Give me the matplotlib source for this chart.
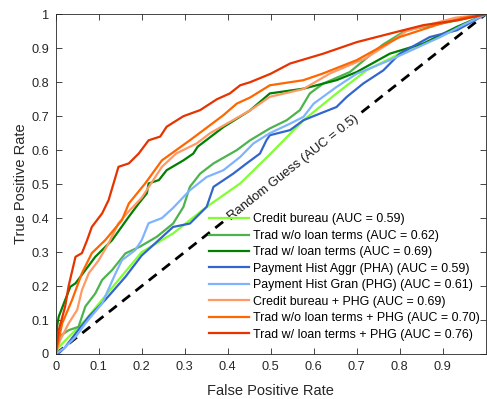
import matplotlib
matplotlib.use("Agg")
import matplotlib.pyplot as plt

plt.rcParams['font.family'] = ['Liberation Sans', 'DejaVu Sans']

# ---- data ----
labels = [
    "Credit bureau (AUC = 0.59)",
    "Trad w/o loan terms (AUC = 0.62)",
    "Trad w/ loan terms (AUC = 0.69)",
    "Payment Hist Aggr (PHA) (AUC = 0.59)",
    "Payment Hist Gran (PHG) (AUC = 0.61)",
    "Credit bureau + PHG (AUC = 0.69)",
    "Trad w/o loan terms + PHG (AUC = 0.70)",
    "Trad w/ loan terms + PHG (AUC = 0.76)",
]
colors = ["#80FF33", "#4DB34D", "#008000", "#3366CC", "#80B3FF",
          "#FF9966", "#FF6600", "#E63300"]

cb_fpr = [0, 0.007, 0.03, 0.069, 0.146, 0.2, 0.273, 0.351, 0.429, 0.5, 0.576, 0.653, 0.723, 0.80, 0.894, 1]
cb_tpr = [0, 0.02, 0.05, 0.10, 0.218, 0.30, 0.355, 0.433, 0.502, 0.59, 0.688, 0.767, 0.835, 0.884, 0.933, 1]

two_fpr = [0, 0.003, 0.007, 0.03, 0.053, 0.069, 0.092, 0.108, 0.131, 0.162, 0.196, 0.235, 0.273, 0.297, 0.312,
           0.336, 0.367, 0.421, 0.452, 0.498, 0.537, 0.568, 0.591, 0.622, 0.684, 0.76, 0.815, 0.894, 1]
two_tpr = [0, 0.045, 0.05, 0.07, 0.08, 0.14, 0.178, 0.218, 0.247, 0.296, 0.316, 0.345, 0.384, 0.433, 0.492,
           0.531, 0.561, 0.60, 0.629, 0.664, 0.688, 0.718, 0.767, 0.796, 0.83, 0.91, 0.953, 0.972, 1]

tw_fpr = [0, 0.003, 0.007, 0.034, 0.046, 0.069, 0.092, 0.131, 0.17, 0.193, 0.212, 0.216, 0.24, 0.258, 0.297,
          0.32, 0.33, 0.39, 0.452, 0.498, 0.576, 0.653, 0.70, 0.777, 0.855, 0.933, 1]
tw_tpr = [0, 0.08, 0.11, 0.198, 0.208, 0.247, 0.286, 0.335, 0.404, 0.443, 0.473, 0.502, 0.512, 0.541, 0.57,
          0.59, 0.61, 0.668, 0.717, 0.767, 0.781, 0.806, 0.83, 0.884, 0.914, 0.963, 1]

pha_fpr = [0, 0.007, 0.022, 0.046, 0.077, 0.115, 0.162, 0.2, 0.235, 0.273, 0.312, 0.351, 0.367, 0.413, 0.444,
           0.475, 0.49, 0.498, 0.545, 0.576, 0.615, 0.653, 0.677, 0.715, 0.762, 0.80, 0.87, 0.933, 1]
pha_tpr = [0, 0.002, 0.02, 0.06, 0.11, 0.159, 0.227, 0.29, 0.33, 0.374, 0.384, 0.433, 0.492, 0.531, 0.561,
           0.59, 0.629, 0.644, 0.659, 0.688, 0.708, 0.727, 0.757, 0.796, 0.835, 0.884, 0.933, 0.953, 1]

phg_fpr = [0, 0.022, 0.046, 0.069, 0.108, 0.139, 0.154, 0.185, 0.2, 0.216, 0.247, 0.273, 0.312, 0.351, 0.39,
           0.429, 0.46, 0.498, 0.545, 0.576, 0.60, 0.653, 0.70, 0.777, 0.894, 0.95, 1]
phg_tpr = [0, 0.02, 0.05, 0.09, 0.149, 0.237, 0.276, 0.306, 0.335, 0.385, 0.40, 0.43, 0.482, 0.521, 0.541,
           0.58, 0.62, 0.65, 0.678, 0.698, 0.737, 0.786, 0.825, 0.865, 0.933, 0.97, 1]

cbp_fpr = [0, 0.01, 0.03, 0.05, 0.061, 0.077, 0.10, 0.123, 0.146, 0.17, 0.20, 0.247, 0.28, 0.328, 0.359,
           0.452, 0.498, 0.576, 0.638, 0.72, 0.77, 0.815, 0.87, 0.93, 1]
cbp_tpr = [0, 0.04, 0.09, 0.13, 0.188, 0.238, 0.276, 0.326, 0.385, 0.42, 0.46, 0.551, 0.59, 0.62, 0.65,
           0.717, 0.757, 0.78, 0.826, 0.87, 0.91, 0.95, 0.97, 0.99, 1]

twop_fpr = [0, 0.015, 0.038, 0.061, 0.084, 0.115, 0.154, 0.17, 0.208, 0.247, 0.28, 0.313, 0.35, 0.39, 0.421,
            0.452, 0.498, 0.576, 0.622, 0.70, 0.75, 0.80, 0.894, 0.95, 1]
twop_tpr = [0, 0.09, 0.159, 0.238, 0.297, 0.335, 0.394, 0.443, 0.502, 0.57, 0.60, 0.63, 0.665, 0.703, 0.737,
            0.755, 0.791, 0.806, 0.826, 0.865, 0.90, 0.933, 0.972, 0.99, 1]

twp_fpr = [0, 0.007, 0.022, 0.03, 0.046, 0.061, 0.073, 0.084, 0.108, 0.123, 0.139, 0.146, 0.17, 0.193, 0.216,
           0.243, 0.258, 0.297, 0.336, 0.375, 0.405, 0.429, 0.452, 0.50, 0.545, 0.622, 0.70, 0.777, 0.855, 0.933, 1]
twp_tpr = [0, 0.07, 0.14, 0.20, 0.286, 0.297, 0.335, 0.374, 0.414, 0.453, 0.521, 0.551, 0.561, 0.59, 0.629,
           0.64, 0.669, 0.70, 0.718, 0.75, 0.767, 0.791, 0.80, 0.825, 0.855, 0.884, 0.918, 0.943, 0.968, 0.982, 1]

guess_fpr = [0, 1]
guess_tpr = [0, 1]

xticks = [0, 0.1, 0.2, 0.3, 0.4, 0.5, 0.6, 0.7, 0.8, 0.9]
xticklabels = ["0", "0.1", "0.2", "0.3", "0.4", "0.5", "0.6", "0.7", "0.8", "0.9"]
yticks = [0, 0.1, 0.2, 0.3, 0.4, 0.5, 0.6, 0.7, 0.8, 0.9, 1]
yticklabels = ["0", "0.1", "0.2", "0.3", "0.4", "0.5", "0.6", "0.7", "0.8", "0.9", "1"]

series = [(cb_fpr, cb_tpr), (two_fpr, two_tpr), (tw_fpr, tw_tpr), (pha_fpr, pha_tpr),
          (phg_fpr, phg_tpr), (cbp_fpr, cbp_tpr), (twop_fpr, twop_tpr), (twp_fpr, twp_tpr)]

# ---- figure ----
fig = plt.figure(figsize=(4.87, 3.99), dpi=100)
ax = fig.add_axes([0.1144, 0.1128, 0.8829, 0.8514])

ax.plot(guess_fpr, guess_tpr, color="black", lw=2.0, dashes=(3.6, 2.5), zorder=1)

handles = []
for (fx, ty), lab, col in zip(series, labels, colors):
    h, = ax.plot(fx, ty, color=col, lw=1.6, label=lab, zorder=2)
    handles.append(h)

ax.text(0.553, 0.548, "Random Guess (AUC = 0.5)", rotation=38.3, rotation_mode="anchor",
        ha="center", va="center", fontsize=9.4, color="#1a1a1a", zorder=3,
        bbox=dict(facecolor="white", edgecolor="none", pad=0.5))

ax.set_xlim(0, 1)
ax.set_ylim(0, 1)
ax.set_xticks(xticks)
ax.set_xticklabels(xticklabels)
ax.set_yticks(yticks)
ax.set_yticklabels(yticklabels)
ax.tick_params(direction="in", top=True, right=True, length=4, width=0.6,
               color="#262626", labelcolor="#262626", labelsize=9.2, pad=5)
for s in ax.spines.values():
    s.set_color("#262626")
    s.set_linewidth(0.6)

ax.set_xlabel("False Positive Rate", fontsize=10.5, color="#262626", labelpad=8)
ax.set_ylabel("True Positive Rate", fontsize=10.5, color="#262626", labelpad=2)

leg = ax.legend(handles=handles, loc="lower left", bbox_to_anchor=(0.345, 0.025),
                frameon=False, fontsize=8.9, handlelength=3.2, handletextpad=0.35,
                labelspacing=0.36, borderaxespad=0.0)
leg.set_zorder(5)

fig.savefig("out.png", dpi=100)
